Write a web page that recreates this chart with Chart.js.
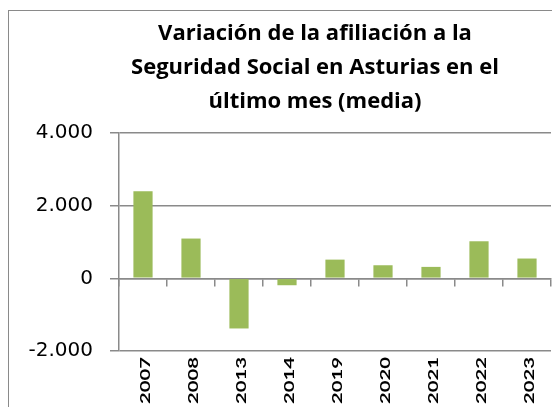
<!DOCTYPE html>
<html>
<head>
<meta charset="utf-8">
<script src="https://cdn.jsdelivr.net/npm/chart.js@4.4.1/dist/chart.umd.min.js"></script>
<style>
  html, body { margin: 0; padding: 0; background: #fff; overflow: hidden; }
  #wrap { position: absolute; left: 0; top: 0; width: 630px; height: 430px; }
</style>
</head>
<body>
<div id="wrap"><canvas id="afiliacionChart" width="630" height="430"></canvas></div>
<script>
// Datos del gráfico
const years = ['2007', '2008', '2013', '2014', '2019', '2020', '2021', '2022', '2023'];
const variacion = [2400, 1095, -1380, -190, 515, 360, 315, 1020, 545];
const yTicks = [-2000, 0, 2000, 4000];
const titleLines = ['Variación de la afiliación a la', 'Seguridad Social en Asturias en el', 'último mes (media)'];

const gris = '#8a8a8a';

// Formato con punto de miles (4.000)
function formatMiles(v) {
    return String(v).replace(/\B(?=(\d{3})+(?!\d))/g, '.');
}

// Marco exterior del gráfico
const framePlugin = {
    id: 'frame',
    beforeDraw(chart) {
        const ctx = chart.ctx;
        ctx.save();
        ctx.strokeStyle = gris;
        ctx.lineWidth = 1;
        ctx.strokeRect(8.5, 10.5, 800, 800);
        ctx.restore();
    }
};

// Etiquetas de categoría giradas (leen de abajo a arriba)
const yearLabels = {
    id: 'yearLabels',
    afterDraw(chart) {
        const ctx = chart.ctx;
        const xs = chart.scales.x;
        const top = chart.chartArea.bottom + 6;
        ctx.save();
        ctx.fillStyle = '#000';
        ctx.font = 'bold 14px Lato';
        ctx.textAlign = 'right';
        ctx.textBaseline = 'middle';
        years.forEach((y, i) => {
            ctx.save();
            ctx.translate(xs.getPixelForValue(i) + 2, top);
            ctx.rotate(-Math.PI / 2);
            ctx.scale(1.45, 1);
            ctx.fillText(y, 0, 0);
            ctx.restore();
        });
        ctx.restore();
    }
};

const ctx = document.getElementById('afiliacionChart').getContext('2d');
new Chart(ctx, {
    type: 'bar',
    data: {
        labels: years,
        datasets: [{
            data: variacion,
            backgroundColor: '#9bbb59',
            borderWidth: 0,
            barPercentage: 0.4,
            categoryPercentage: 1
        }]
    },
    options: {
        responsive: false,
        animation: false,
        layout: {
            padding: { left: 0, right: 0, top: 0, bottom: 79 }
        },
        plugins: {
            legend: { display: false },
            tooltip: { enabled: false },
            title: {
                display: true,
                text: titleLines,
                color: '#000',
                font: { family: 'Open Sans', size: 22, weight: 'bold', lineHeight: '34px' },
                padding: { top: 17, bottom: 14 }
            }
        },
        scales: {
            x: {
                position: { y: 0 },
                offset: true,
                ticks: { display: false },
                grid: {
                    display: true,
                    offset: true,
                    drawOnChartArea: false,
                    drawTicks: true,
                    tickLength: 7,
                    color: gris,
                    lineWidth: 1.5
                },
                border: { display: true, color: gris, width: 1.5 }
            },
            y: {
                min: -2000,
                max: 4000,
                afterBuildTicks(scale) {
                    scale.ticks = yTicks.map(v => ({ value: v }));
                },
                afterFit(scale) {
                    scale.width = 119;
                },
                ticks: {
                    color: '#000',
                    padding: 17,
                    font: { family: 'DejaVu Sans', size: 20 },
                    callback: v => formatMiles(v)
                },
                grid: {
                    color: gris,
                    lineWidth: 1.5,
                    drawTicks: true,
                    tickLength: 9
                },
                border: { display: true, color: gris, width: 1.5 }
            },
            // eje derecho vacío: reserva el espacio recortado del gráfico original
            yRight: {
                position: 'right',
                min: -2000,
                max: 4000,
                ticks: { display: false },
                grid: { display: false },
                border: { display: false },
                afterFit(scale) {
                    scale.width = 79;
                }
            }
        }
    },
    plugins: [framePlugin, yearLabels]
});
</script>
</body>
</html>
